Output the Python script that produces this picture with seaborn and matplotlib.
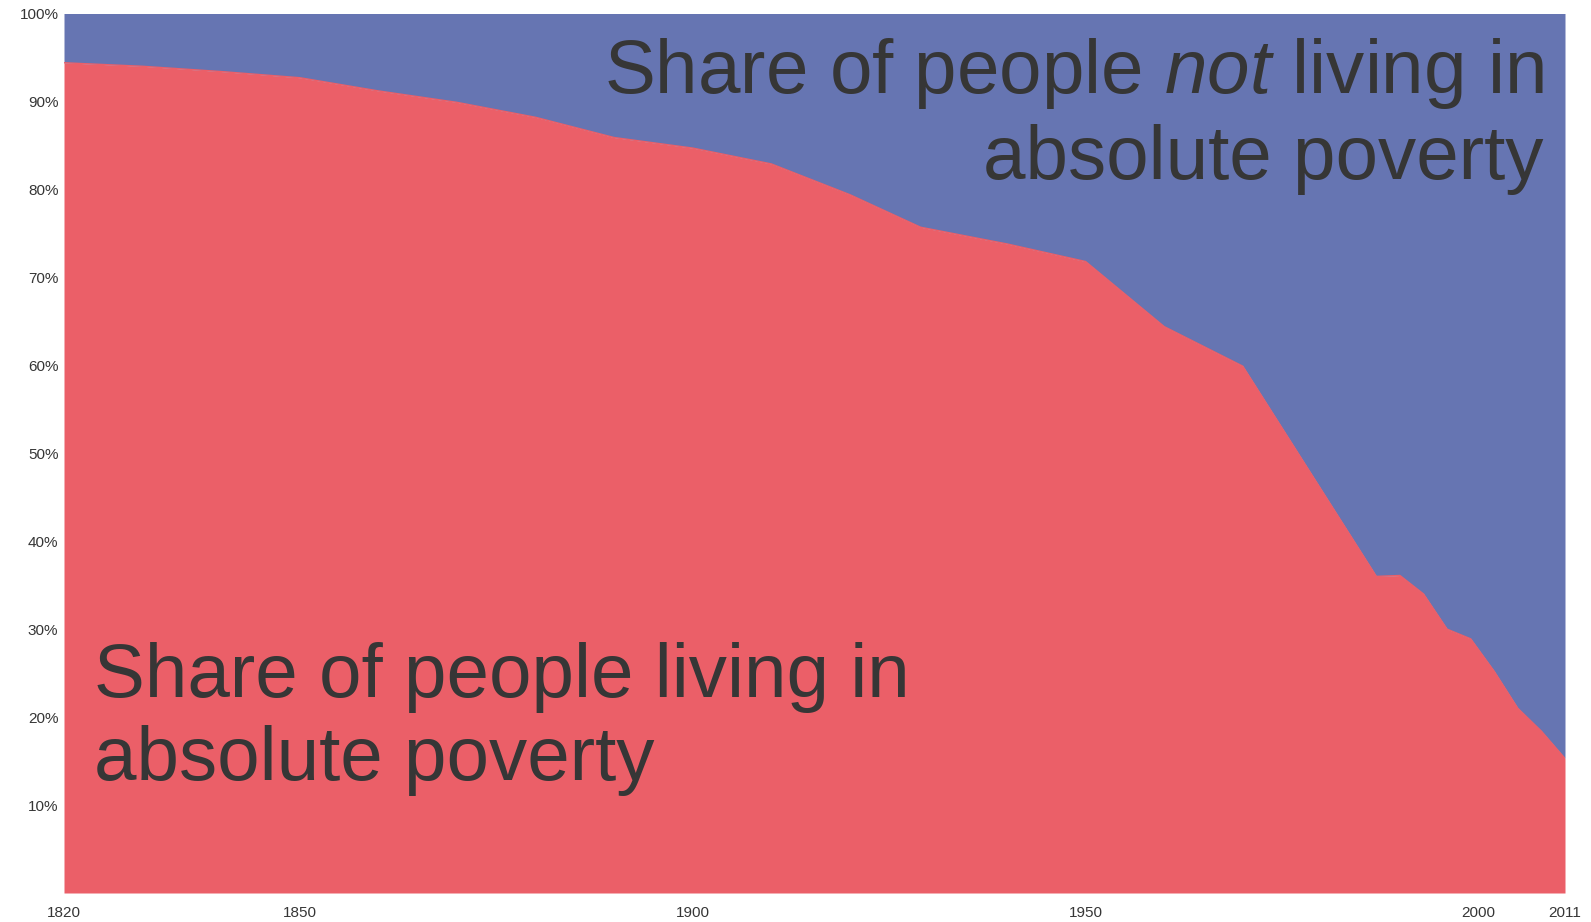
import matplotlib
matplotlib.use("Agg")
import matplotlib.pyplot as plt
import numpy as np
import pandas as pd
import seaborn as sns

sns.set_theme(style="white")
plt.rcParams["font.family"] = ["Liberation Sans", "DejaVu Sans"]
plt.rcParams["mathtext.fontset"] = "custom"
plt.rcParams["mathtext.rm"] = "Liberation Sans"
plt.rcParams["mathtext.it"] = "Liberation Sans:italic"

# Data (share of world population, %)
years = [1820, 1830, 1840, 1850, 1860, 1870, 1880, 1890, 1900, 1910, 1920, 1929, 1940,
         1950, 1960, 1970, 1987, 1990, 1993, 1996, 1999, 2002, 2005, 2008, 2011]
poverty = [94.4, 94.0, 93.4, 92.7, 91.2, 89.9, 88.2, 85.9, 84.7, 82.9, 79.4, 75.7, 73.8,
           71.8, 64.4, 59.9, 36.0, 36.1, 34.0, 30.0, 28.9, 25.2, 21.0, 18.4, 15.3]

x_ticks = [1820, 1850, 1900, 1950, 2000, 2011]
y_ticks = [10, 20, 30, 40, 50, 60, 70, 80, 90, 100]

red = "#EB5F68"
blue = "#6675B2"
text_col = "#363636"

df = pd.DataFrame({"year": years, "poverty": poverty})
df["not_poverty"] = 100 - df["poverty"]

fig = plt.figure(figsize=(15.91, 9.22), dpi=100)
ax = fig.add_axes([64 / 1591, 1 - 893 / 922, (1565 - 64) / 1591, (893 - 13.5) / 922])

ax.stackplot(df["year"], df["poverty"], df["not_poverty"], colors=[red, blue], linewidth=0)
sns.lineplot(data=df, x="year", y="poverty", ax=ax, color=red, linewidth=1.0)

ax.set_xlim(1820, 2011)
ax.set_ylim(0, 100)
ax.set_xticks(x_ticks)
ax.set_xticklabels([str(v) for v in x_ticks])
ax.set_yticks(y_ticks)
ax.set_yticklabels([f"{v}%" for v in y_ticks])
ax.tick_params(axis="both", length=0, labelsize=11, labelcolor=text_col)
ax.tick_params(axis="x", pad=9)
ax.tick_params(axis="y", pad=4)
ax.set_xlabel("")
ax.set_ylabel("")
for s in ax.spines.values():
    s.set_visible(False)

# Annotations
big = 55
ax.text(0.9855, 0.9095, "Share of people $\\mathit{not}$ living in", transform=ax.transAxes,
        ha="right", va="baseline", fontsize=big, color=text_col)
ax.text(0.9855, 0.8117, "absolute poverty", transform=ax.transAxes,
        ha="right", va="baseline", fontsize=big, color=text_col)
ax.text(0.020, 0.223, "Share of people living in", transform=ax.transAxes,
        ha="left", va="baseline", fontsize=big, color=text_col)
ax.text(0.020, 0.129, "absolute poverty", transform=ax.transAxes,
        ha="left", va="baseline", fontsize=big, color=text_col)

fig.savefig("out.png", dpi=100)
